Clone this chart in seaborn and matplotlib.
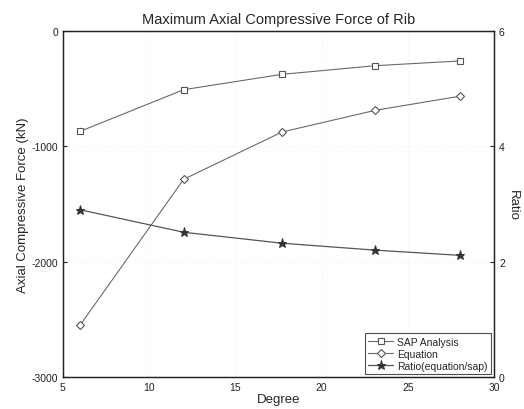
import matplotlib
matplotlib.use("Agg")
import matplotlib.pyplot as plt
import seaborn as sns
import pandas as pd

degree = [6, 12, 17.7, 23.1, 28]
sap_analysis = [-870, -509, -376, -301, -260]
equation = [-2550, -1286, -876, -688, -566]
ratio = [2.90, 2.51, 2.32, 2.20, 2.11]

left_ticks = [-3000, -2000, -1000, 0]
right_ticks = [0, 2, 4, 6]
x_ticks = [5, 10, 15, 20, 25, 30]

sns.set_style("white")
plt.rcParams['font.family'] = ['Liberation Sans', 'DejaVu Sans']
plt.rcParams['axes.unicode_minus'] = False

fig = plt.figure(figsize=(5.24, 4.10), dpi=100)
ax = fig.add_axes([0.120, 0.078, 0.823, 0.844])
ax2 = ax.twinx()

df = pd.DataFrame({"Degree": degree, "SAP": sap_analysis, "Eq": equation, "Ratio": ratio})

line_col = "#6a6a6a"
sns.lineplot(data=df, x="Degree", y="SAP", ax=ax, color=line_col, lw=0.8,
             marker="s", markersize=4.5, markerfacecolor="white", markeredgecolor="#555555",
             markeredgewidth=0.8, label="SAP Analysis", legend=False)
sns.lineplot(data=df, x="Degree", y="Eq", ax=ax, color=line_col, lw=0.8,
             marker="D", markersize=4.5, markerfacecolor="white", markeredgecolor="#555555",
             markeredgewidth=0.8, label="Equation", legend=False)
sns.lineplot(data=df, x="Degree", y="Ratio", ax=ax2, color="#555555", lw=0.9,
             marker="*", markersize=6.5, markerfacecolor="#333333", markeredgecolor="#333333",
             label="Ratio(equation/sap)", legend=False)

ax.set_xlim(5, 30)
ax.set_ylim(-3000, 0)
ax2.set_ylim(0, 6)
ax.set_xticks(x_ticks)
ax.set_yticks(left_ticks)
ax2.set_yticks(right_ticks)

ax.grid(True, linestyle=":", color="#ececec", lw=0.5)
for a in (ax, ax2):
    a.tick_params(direction="in", length=3, labelsize=7.5, colors="#222222")
    for s in a.spines.values():
        s.set_color("#222222")
        s.set_linewidth(0.9)

ax.set_xlabel("Degree", fontsize=9.5, labelpad=1)
ax.set_ylabel("Axial Compressive Force (kN)", fontsize=9.5, labelpad=2)
ax2.set_ylabel("Ratio", fontsize=9.5, rotation=270, labelpad=10)
ax.set_title("Maximum Axial Compressive Force of Rib", fontsize=10.5, pad=6)

h1, l1 = ax.get_legend_handles_labels()
h2, l2 = ax2.get_legend_handles_labels()
leg = ax2.legend(h1 + h2, l1 + l2, loc="lower right", fontsize=7.5, frameon=True,
                 fancybox=False, edgecolor="#222222", borderpad=0.3, labelspacing=0.2,
                 handlelength=2.4, handletextpad=0.4, borderaxespad=0.3)
leg.get_frame().set_linewidth(0.8)

fig.savefig("out.png", dpi=100)
